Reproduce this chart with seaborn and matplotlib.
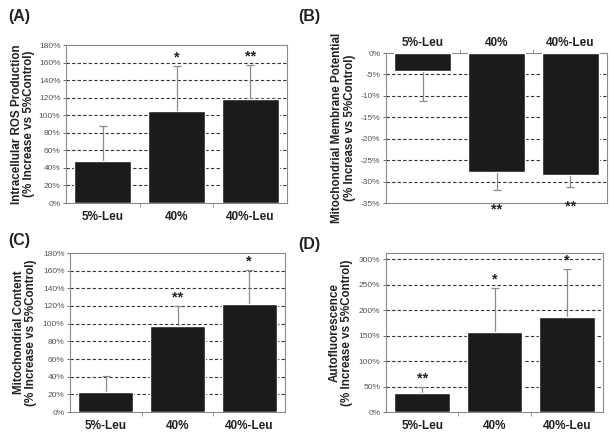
import numpy as np
import pandas as pd
import matplotlib
matplotlib.use("Agg")
import matplotlib.pyplot as plt
import seaborn as sns
from matplotlib.ticker import PercentFormatter, FixedLocator

groups = ["5%-Leu", "40%", "40%-Leu"]

ros_mean = [48, 105, 118]
ros_err = [40, 51, 39]
ros_stars = ["", "*", "**"]

mmp_mean = [-4.3, -27.8, -28.4]
mmp_err = [7.0, 4.2, 2.9]
mmp_stars = ["", "**", "**"]

content_mean = [23, 97, 122]
content_err = [18, 23, 39]
content_stars = ["", "**", "*"]

auto_mean = [38, 157, 187]
auto_err = [12, 86, 93]
auto_stars = ["**", "*", "*"]

sns.set_style("white")
plt.rcParams["font.family"] = ["Liberation Sans", "DejaVu Sans"]
plt.rcParams["axes.unicode_minus"] = False

W, H = 612, 440
fig = plt.figure(figsize=(W / 100, H / 100), dpi=100)


def px_axes(left, top, right, bottom):
    return fig.add_axes([left / W, 1 - bottom / H, (right - left) / W, (bottom - top) / H])


def panel(ax, means, errs, stars, ylim, step, ylabel, negative=False):
    df = pd.DataFrame({"group": groups, "value": means})
    sns.barplot(data=df, x="group", y="value", color="#1b1b1b", saturation=1,
                width=0.77, errorbar=None, ax=ax, zorder=3)
    pos = np.arange(len(groups))
    ends = np.array(means) + (-1 if negative else 1) * np.array(errs)
    yerr = [errs, [0] * 3] if negative else [[0] * 3, errs]
    ax.errorbar(pos, means, yerr=yerr, fmt="none", ecolor="#8a8a8a",
                elinewidth=0.9, capsize=3, capthick=0.9, zorder=2)
    for p, e, s in zip(pos, ends, stars):
        if s:
            ax.annotate(s, (p, e), xytext=(0, -9 if negative else 1),
                        textcoords="offset points", ha="center",
                        va="top" if negative else "bottom",
                        fontsize=10.5, fontweight="bold", color="#222222")
    ax.set_xlim(-0.5, 2.5)
    ax.set_ylim(*ylim)
    if negative:
        ticks = np.arange(-35, 0.01, step)
    else:
        ticks = np.arange(0, ylim[1] + 0.01, step)
    ax.set_yticks(ticks)
    ax.yaxis.set_major_formatter(PercentFormatter(decimals=0))
    for t in ticks:
        if ylim[0] < t < ylim[1]:
            ax.axhline(t, color="#333333", lw=0.8, ls=(0, (3, 2)), zorder=1)
    ax.tick_params(axis="y", labelsize=6, length=2, width=0.6,
                   left=True, colors="#555555", pad=2)
    if negative:
        ax.xaxis.tick_top()
    ax.tick_params(axis="x", length=0, labelsize=8.5, pad=3 if negative else 6)
    for lab in ax.get_xticklabels():
        lab.set_fontweight("bold")
        lab.set_color("#222222")
    ax.xaxis.set_minor_locator(FixedLocator([0.5, 1.5]))
    ax.tick_params(axis="x", which="minor", length=3, width=0.6, color="#888888",
                   bottom=not negative, top=negative)
    ax.set_xlabel("")
    ax.set_ylabel(ylabel, fontsize=8.4, fontweight="bold", color="#222222",
                  linespacing=1.05)
    for sp in ax.spines.values():
        sp.set_color("#8a8a8a")
        sp.set_linewidth(0.8)


axA = px_axes(66, 45, 287, 203)
panel(axA, ros_mean, ros_err, ros_stars, (0, 180), 20,
      "Intracellular ROS Production\n(% Increase vs 5%Control)")
axA.yaxis.set_label_coords(-0.14, 0.5)

axB = px_axes(386, 53, 607, 203)
panel(axB, mmp_mean, mmp_err, mmp_stars, (-35, 0), 5,
      "Mitochondrial Membrane Potential\n(% Increase vs 5%Control)", negative=True)
axB.yaxis.set_label_coords(-0.136, 0.5)

axC = px_axes(70, 253, 285, 412)
panel(axC, content_mean, content_err, content_stars, (0, 180), 20,
      "Mitochondrial Content\n(% Increase vs 5%Control)")
axC.yaxis.set_label_coords(-0.153, 0.5)

axD = px_axes(386, 253, 603, 412)
panel(axD, auto_mean, auto_err, auto_stars, (0, 312), 50,
      "Autofluorescence\n(% Increase vs 5%Control)")
axD.yaxis.set_label_coords(-0.152, 0.5)

for lbl, x, y in [("(A)", 8, 17), ("(B)", 298, 17), ("(C)", 8, 240), ("(D)", 298, 244)]:
    fig.text(x / W, 1 - y / H, lbl, fontsize=11.5, fontweight="bold",
             va="center", ha="left", color="#222222")

fig.savefig("out.png", dpi=100)
